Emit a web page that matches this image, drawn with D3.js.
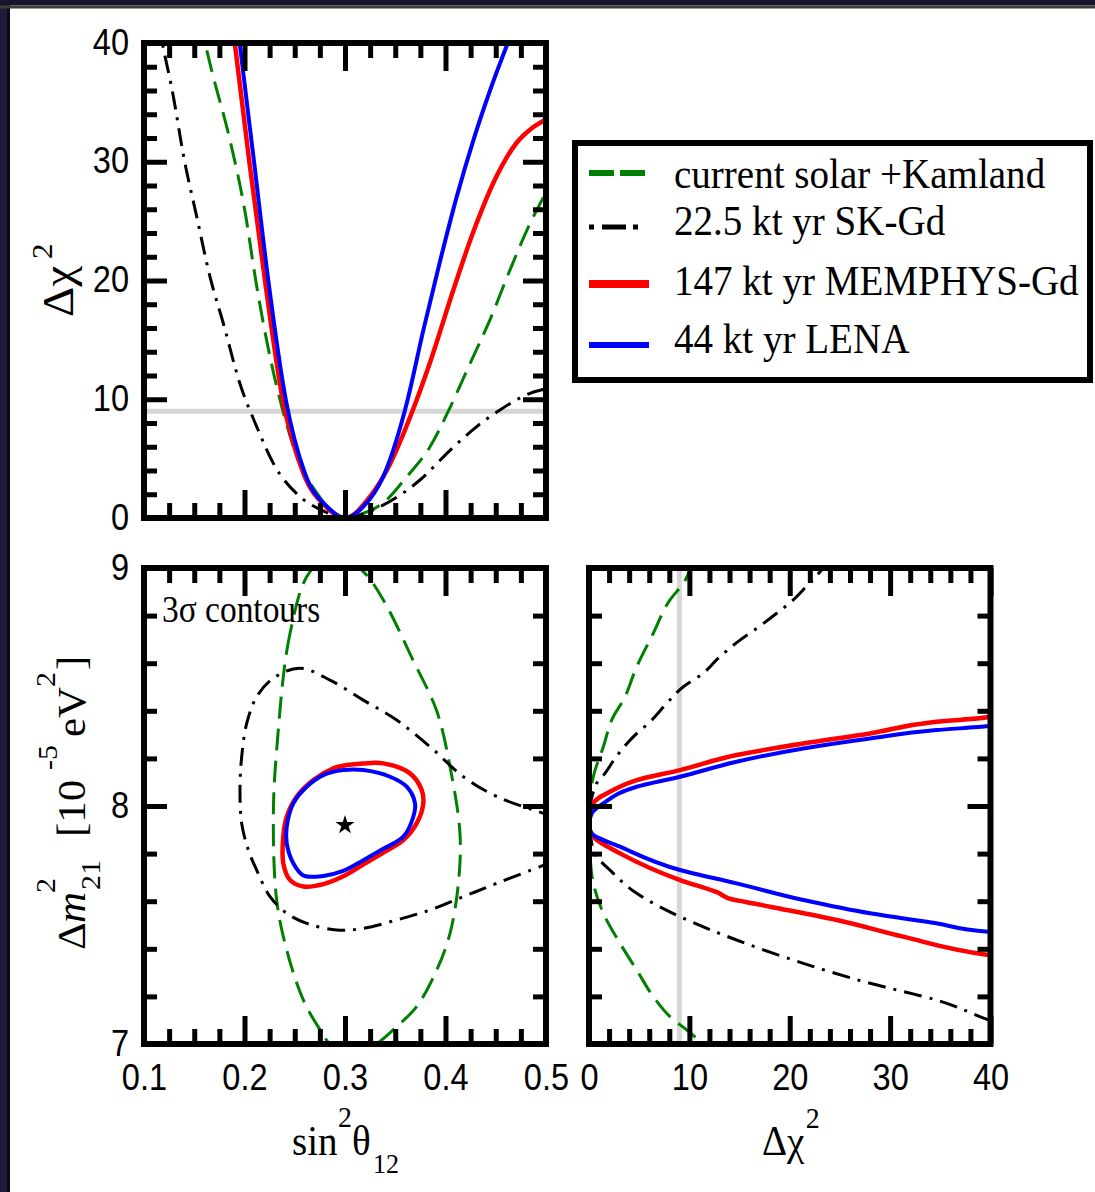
<!DOCTYPE html>
<html><head><meta charset="utf-8">
<script src="https://cdn.jsdelivr.net/npm/d3@7"></script>
<style>html,body{margin:0;padding:0;background:#fff;} svg{display:block}</style>
</head><body>
<svg id="c" width="1095" height="1192"></svg>
<script>
// ---------------- DATA ----------------
const sinMajor = [0.1, 0.2, 0.3, 0.4, 0.5];
const sinLabels = ["0.1", "0.2", "0.3", "0.4", "0.5"];
const chiMajor = [0, 10, 20, 30, 40];
const chiLabels = ["0", "10", "20", "30", "40"];
const dmMajor = [7, 8, 9];
const dmLabels = ["7", "8", "9"];
const legendLabels = ["current solar +Kamland", "22.5 kt yr SK-Gd", "147 kt yr MEMPHYS-Gd", "44 kt yr LENA"];
const chi2Ref = 9;
const bestFit = [0.3, 7.92];

// Top panel: [sin^2 theta12, delta chi^2]
const topSolar = [[0.155,42],[0.1607,40],[0.1673,37.7],[0.1856,31.8],[0.2005,25.8],[0.2114,19.9],[0.2187,16.4],[0.2337,10.5],[0.2436,7.4],[0.2535,4.9],[0.2721,2.1],[0.287,0.55],[0.3,0],[0.315,0.3],[0.3378,1.26],[0.3617,3.5],[0.3846,6.0],[0.4045,9.3],[0.4244,13.0],[0.4443,16.7],[0.4642,20.9],[0.4841,24.8],[0.5,27.4]];
const topSK = [[0.1133,42],[0.1189,39.7],[0.1292,35.5],[0.1391,30.6],[0.1524,25.4],[0.1657,20.3],[0.1789,16.4],[0.1955,11.3],[0.2121,7.7],[0.2287,4.6],[0.2552,1.8],[0.2784,0.6],[0.3,0],[0.3348,0.95],[0.3746,3.2],[0.4045,5.7],[0.4311,7.7],[0.4542,9.1],[0.4841,10.5],[0.5,10.9]];
const topMEMPHYS = [[0.1875,42],[0.1903,40],[0.2048,30],[0.2204,20],[0.238,10],[0.2585,3.8],[0.2818,0.9],[0.3,0],[0.3249,1.8],[0.3415,4.0],[0.368,9.2],[0.3846,13.1],[0.4078,19.2],[0.4277,24.1],[0.4509,28.8],[0.4608,30.35],[0.4708,31.6],[0.484,32.7],[0.4973,33.45],[0.5,33.6]];
const topLENA = [[0.1925,42],[0.1952,40],[0.2095,30],[0.2237,20],[0.241,10],[0.26,3.8],[0.283,0.9],[0.3,0],[0.3182,0.95],[0.3381,3.5],[0.3614,9.65],[0.3779,15.8],[0.3945,21.6],[0.411,27.0],[0.4277,31.8],[0.4443,36.0],[0.462,40],[0.47,41.7]];

// Bottom-left: 3 sigma contours [sin^2 theta12, dm2 (1e-5 eV^2)]
const cSolar = [[0.2652,8.985],[0.2453,8.726],[0.232,8.235],[0.2287,7.955],[0.232,7.605],[0.242,7.395],[0.2585,7.185],[0.2751,7.06],[0.2851,7.0],[0.308,6.94],[0.3315,7.0],[0.3514,7.073],[0.3713,7.157],[0.3912,7.31],[0.4045,7.465],[0.4128,7.675],[0.4144,7.885],[0.4045,8.165],[0.3912,8.40],[0.368,8.61],[0.3381,8.866],[0.3182,8.985],[0.292,9.06]];
const cSK = [[0.51,7.95],[0.4973,7.969],[0.4509,8.04],[0.4178,8.123],[0.3846,8.249],[0.3514,8.361],[0.3182,8.445],[0.2851,8.529],[0.2552,8.579],[0.2287,8.537],[0.2121,8.459],[0.2022,8.347],[0.1972,8.207],[0.1955,8.067],[0.1972,7.927],[0.2038,7.815],[0.2121,7.731],[0.2254,7.619],[0.242,7.549],[0.2619,7.507],[0.2917,7.479],[0.3182,7.486],[0.3514,7.521],[0.3846,7.563],[0.4178,7.619],[0.4509,7.675],[0.494,7.745],[0.51,7.77]];
const cMEMPHYS = [[0.3182,8.179],[0.3381,8.179],[0.3647,8.137],[0.3763,8.067],[0.3779,8.011],[0.3713,7.927],[0.358,7.857],[0.3381,7.804],[0.3182,7.754],[0.2983,7.705],[0.2784,7.672],[0.2585,7.662],[0.2453,7.689],[0.2386,7.759],[0.2386,7.871],[0.242,7.955],[0.2519,8.039],[0.2685,8.109],[0.2884,8.158],[0.3017,8.172]];
const cLENA = [[0.2983,8.151],[0.3182,8.151],[0.3448,8.123],[0.3614,8.081],[0.3697,8.011],[0.368,7.955],[0.358,7.871],[0.3381,7.82],[0.3182,7.772],[0.2983,7.727],[0.2784,7.706],[0.2585,7.708],[0.2486,7.759],[0.242,7.843],[0.242,7.913],[0.2486,8.011],[0.2619,8.081],[0.2784,8.13]];

// Bottom-right: [dm2 (1e-5 eV^2), delta chi^2]
const rSolar = [[9.03,10.4],[8.936,9.40],[8.866,8.07],[8.726,6.41],[8.585,4.75],[8.445,3.42],[8.375,2.42],[8.249,1.43],[8.123,0.43],[8.01,0.1],[7.9,0],[7.79,0.1],[7.675,0.43],[7.549,1.43],[7.423,3.09],[7.311,4.75],[7.199,6.41],[7.115,8.07],[7.059,9.73],[7.01,11.06],[6.96,11.9]];
const rSK = [[9.03,24.0],[8.965,22.6],[8.92,21.6],[8.866,20.35],[8.81,18.7],[8.746,16.7],[8.697,15.04],[8.621,12.88],[8.558,11.39],[8.501,9.40],[8.431,7.74],[8.354,6.08],[8.298,4.58],[8.2,2.59],[8.137,1.59],[8.095,0.76],[7.95,0],[7.815,0.43],[7.717,2.42],[7.633,4.75],[7.535,9.07],[7.437,14.7],[7.339,21.35],[7.255,28.0],[7.185,34.6],[7.101,39.8],[7.09,40.5]];
const rMEMPHYS = [[8.39,40.5],[8.374,39.8],[8.354,34.6],[8.305,28.0],[8.263,21.35],[8.214,14.7],[8.151,9.07],[8.109,4.75],[8.067,2.42],[8.011,0.43],[7.92,0],[7.871,0.43],[7.801,3.09],[7.689,9.07],[7.637,12.8],[7.607,14.3],[7.598,15.5],[7.577,18.03],[7.521,24.68],[7.451,31.3],[7.374,39.8],[7.37,40.5]];
const rLENA = [[8.34,40.5],[8.336,39.8],[8.319,34.6],[8.284,28.0],[8.242,21.35],[8.186,14.7],[8.123,9.07],[8.081,4.75],[8.011,1.43],[7.969,0.27],[7.92,0],[7.885,0.27],[7.829,3.09],[7.731,9.07],[7.675,14.7],[7.605,21.35],[7.549,28.0],[7.507,34.6],[7.472,39.8],[7.47,40.5]];

// ---------------- LAYOUT / STYLE ----------------
const W = 1095, H = 1192;
const svg = d3.select("#c");
const SERIF = "'Liberation Serif','Times New Roman',serif";
const SANS = "'Liberation Sans',Arial,sans-serif";

svg.append("rect").attr("width", W).attr("height", H).attr("fill", "#fff");
svg.append("rect").attr("x", 0).attr("y", 0).attr("width", 7).attr("height", H).attr("fill", "#1d1a3c");
svg.append("rect").attr("x", 7).attr("y", 0).attr("width", 3).attr("height", H).attr("fill", "#0a0910");
svg.append("rect").attr("x", 0).attr("y", 0).attr("width", W).attr("height", 5.5).attr("fill", "#17152f");
svg.append("rect").attr("x", 0).attr("y", 5.5).attr("width", W).attr("height", 3).attr("fill", "#3d3f31");

const P1 = {x0: 144, x1: 546, y0: 43, y1: 518};
const P2 = {x0: 144, x1: 546, y0: 568, y1: 1044};
const P3 = {x0: 589, x1: 990.5, y0: 568, y1: 1044};

const xSin = d3.scaleLinear().domain([0.1, 0.5]).range([P1.x0, P1.x1]);
const yChi = d3.scaleLinear().domain([0, 40]).range([P1.y1, P1.y0]);
const yDm = d3.scaleLinear().domain([7, 9]).range([P2.y1, P2.y0]);
const xChi = d3.scaleLinear().domain([0, 40]).range([P3.x0, P3.x1]);

const st = {
  solar: {c: "#008000", w: 3, d: "22,10"},
  sk: {c: "#000000", w: 3, d: "18,8,3,8"},
  mem: {c: "#ff0000", w: 4.5, d: null},
  lena: {c: "#0000ff", w: 4, d: null}
};

const defs = svg.append("defs");
function clip(id, P) {
  defs.append("clipPath").attr("id", id).append("rect")
    .attr("x", P.x0).attr("y", P.y0).attr("width", P.x1 - P.x0).attr("height", P.y1 - P.y0);
}
clip("cp1", P1); clip("cp2", P2); clip("cp3", P3);

function drawPath(g, data, gen, s) {
  const p = g.append("path").attr("d", gen(data)).attr("fill", "none")
    .attr("stroke", s.c).attr("stroke-width", s.w).attr("stroke-linejoin", "round");
  if (s.d) p.attr("stroke-dasharray", s.d);
}

// ---- Panel 1 ----
const g1 = svg.append("g").attr("clip-path", "url(#cp1)");
g1.append("line").attr("x1", P1.x0).attr("x2", P1.x1).attr("y1", yChi(chi2Ref)).attr("y2", yChi(chi2Ref))
  .attr("stroke", "#d6d6d6").attr("stroke-width", 5);
const lineTop = d3.line().x(d => xSin(d[0])).y(d => yChi(d[1])).curve(d3.curveMonotoneX);
drawPath(g1, topSolar, lineTop, st.solar);
drawPath(g1, topSK, lineTop, st.sk);
drawPath(g1, topMEMPHYS, lineTop, st.mem);
drawPath(g1, topLENA, lineTop, st.lena);

// ---- Panel 2 ----
const g2 = svg.append("g").attr("clip-path", "url(#cp2)");
const lineCC = d3.line().x(d => xSin(d[0])).y(d => yDm(d[1])).curve(d3.curveCatmullRomClosed);
const lineCO = d3.line().x(d => xSin(d[0])).y(d => yDm(d[1])).curve(d3.curveCatmullRom);
drawPath(g2, cSolar, lineCC, st.solar);
drawPath(g2, cSK, lineCO, st.sk);
drawPath(g2, cMEMPHYS, lineCC, st.mem);
drawPath(g2, cLENA, lineCC, st.lena);
g2.append("path").attr("d", d3.symbol(d3.symbolStar, 115)())
  .attr("transform", `translate(${xSin(bestFit[0])},${yDm(bestFit[1])})`).attr("fill", "#000");

// ---- Panel 3 ----
const g3 = svg.append("g").attr("clip-path", "url(#cp3)");
g3.append("line").attr("x1", xChi(chi2Ref)).attr("x2", xChi(chi2Ref)).attr("y1", P3.y0).attr("y2", P3.y1)
  .attr("stroke", "#d6d6d6").attr("stroke-width", 5);
const lineR = d3.line().x(d => xChi(d[1])).y(d => yDm(d[0])).curve(d3.curveMonotoneY);
drawPath(g3, rSolar, lineR, st.solar);
drawPath(g3, rSK, lineR, st.sk);
drawPath(g3, rMEMPHYS, lineR, st.mem);
drawPath(g3, rLENA, lineR, st.lena);

// ---- Frames & ticks ----
function minorVals(scale, step, majors) {
  const [a, b] = scale.domain();
  const n = Math.round((b - a) / step);
  const out = [];
  for (let i = 0; i <= n; i++) {
    const v = +(a + i * step).toFixed(6);
    if (!majors.some(m => Math.abs(m - v) < 1e-9)) out.push(v);
  }
  return out;
}
function frame(P, xs, ys, xMaj, xStep, yMaj, yStep) {
  const g = svg.append("g");
  const xMin = minorVals(xs, xStep, xMaj), yMin = minorVals(ys, yStep, yMaj);
  const mk = (fn, sc, vals, len, tx, ty) => {
    const a = g.append("g").attr("transform", `translate(${tx},${ty})`)
      .call(fn(sc).tickValues(vals).tickSize(-len).tickFormat(""));
    a.select(".domain").remove();
    a.selectAll("line").attr("stroke", "#000").attr("stroke-width", 5);
  };
  mk(d3.axisBottom, xs, xMaj, 28, 0, P.y1); mk(d3.axisBottom, xs, xMin, 15, 0, P.y1);
  mk(d3.axisTop, xs, xMaj, 28, 0, P.y0); mk(d3.axisTop, xs, xMin, 15, 0, P.y0);
  mk(d3.axisLeft, ys, yMaj, 23, P.x0, 0); mk(d3.axisLeft, ys, yMin, 13, P.x0, 0);
  mk(d3.axisRight, ys, yMaj, 23, P.x1, 0); mk(d3.axisRight, ys, yMin, 13, P.x1, 0);
  g.append("rect").attr("x", P.x0).attr("y", P.y0).attr("width", P.x1 - P.x0).attr("height", P.y1 - P.y0)
    .attr("fill", "none").attr("stroke", "#000").attr("stroke-width", 6);
}
frame(P1, xSin, yChi, sinMajor, 0.025, chiMajor, 2);
frame(P2, xSin, yDm, sinMajor, 0.025, dmMajor, 0.2);
frame(P3, xChi, yDm, chiMajor, 2, dmMajor, 0.2);

// ---- Tick labels ----
const SX = 0.88;
function labelsBottom(xs, vals, labels, y) {
  const a = svg.append("g").attr("transform", `translate(0,${y})`)
    .call(d3.axisBottom(xs).tickValues(vals).tickSize(0).tickPadding(20).tickFormat((d, i) => labels[i]));
  a.select(".domain").remove();
  a.attr("font-family", SANS).attr("font-size", 37);
  a.selectAll("text").attr("fill", "#000").attr("transform", `scale(${SX},1)`);
}
function labelsLeft(ys, vals, labels, x) {
  const a = svg.append("g").attr("transform", `translate(${x},0)`)
    .call(d3.axisLeft(ys).tickValues(vals).tickSize(0).tickPadding(15).tickFormat((d, i) => labels[i]));
  a.select(".domain").remove();
  a.attr("font-family", SANS).attr("font-size", 37);
  a.selectAll("text").attr("fill", "#000").attr("x", -15 / SX).attr("dy", "0.3em")
    .attr("transform", `scale(${SX},1)`);
}
labelsLeft(yChi, chiMajor, chiLabels, P1.x0);
labelsLeft(yDm, dmMajor, dmLabels, P2.x0);
labelsBottom(xSin, sinMajor, sinLabels, P2.y1);
labelsBottom(xChi, chiMajor, chiLabels, P3.y1);

// ---- Axis titles ----
const SS = 0.93;
function title(tx, ty, rot, size, parts) {
  const t = svg.append("text")
    .attr("transform", `translate(${tx},${ty}) scale(${SS},1)` + (rot ? " rotate(-90)" : ""))
    .attr("font-family", SERIF).attr("font-size", size).attr("fill", "#000");
  parts.forEach(p => {
    const s = t.append("tspan").attr("x", p.x).attr("y", p.y || 0).text(p.t);
    if (p.fs) s.attr("font-size", p.fs);
    if (p.it) s.attr("font-style", "italic");
  });
  return t;
}
title(73, 317, true, 47, [{t: "Δχ", x: 0}, {t: "2", x: 58, y: -22.6, fs: 31}]);
title(85, 950, true, 43, [
  {t: "Δ", x: 0}, {t: "m", x: 27, it: true}, {t: "2", x: 57, y: -32, fs: 30}, {t: "21", x: 60, y: 16, fs: 30},
  {t: "[10", x: 113}, {t: "-5", x: 180, y: -30, fs: 30}, {t: "eV", x: 213}, {t: "2", x: 263, y: -32, fs: 30}, {t: "]", x: 280}
]);
title(292, 1155, false, 42, [{t: "sin", x: 0}, {t: "2", x: 49.5, y: -28, fs: 30}, {t: "θ", x: 64.5}, {t: "12", x: 87, y: 18, fs: 28}]);
title(762, 1155, false, 42, [{t: "Δχ", x: 0}, {t: "2", x: 47, y: -27, fs: 30}]);

svg.append("text").attr("transform", `translate(162,622) scale(0.88,1)`)
  .attr("font-family", SERIF).attr("font-size", 38).attr("fill", "#000").text("3σ contours");

// ---- Legend ----
const lg = svg.append("g");
lg.append("rect").attr("x", 575).attr("y", 143).attr("width", 515).attr("height", 237)
  .attr("fill", "#fff").attr("stroke", "#000").attr("stroke-width", 6);
const legStyles = [
  {c: "#008000", w: 6, d: "25,6", x2: 645, ly: 173, by: 188},
  {c: "#000000", w: 5, d: "5,8,24,7", x2: 639, ly: 227, by: 235},
  {c: "#ff0000", w: 8, d: null, x2: 649, ly: 284, by: 295},
  {c: "#0000ff", w: 6, d: null, x2: 649, ly: 345, by: 353}
];
legendLabels.forEach((lab, i) => {
  const s = legStyles[i];
  const l = lg.append("line").attr("x1", 589).attr("x2", s.x2).attr("y1", s.ly).attr("y2", s.ly)
    .attr("stroke", s.c).attr("stroke-width", s.w);
  if (s.d) l.attr("stroke-dasharray", s.d);
  lg.append("text").attr("transform", `translate(674,${s.by}) scale(${SS},1)`)
    .attr("font-family", SERIF).attr("font-size", 42).attr("fill", "#000").text(lab);
});
</script>
</body></html>
